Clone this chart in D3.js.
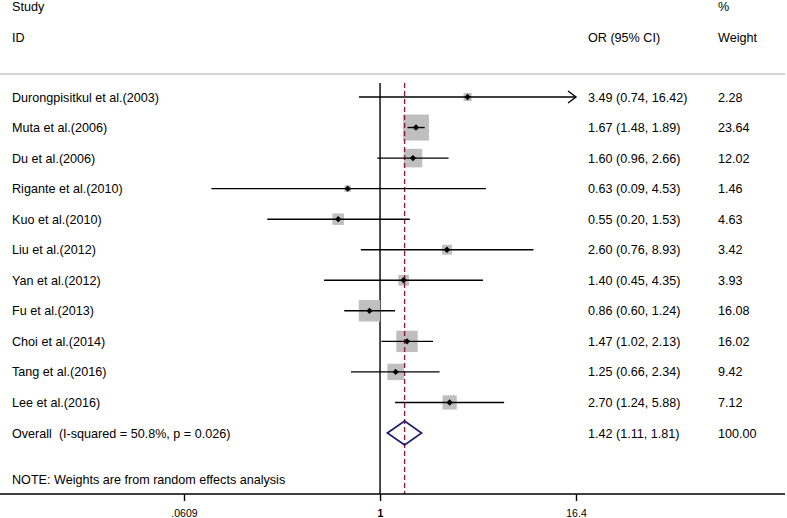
<!DOCTYPE html>
<html><head><meta charset="utf-8">
<script src="https://cdn.jsdelivr.net/npm/d3@7/dist/d3.min.js"></script>
<style>body{margin:0;background:#fff}svg{display:block}text{font-family:"Liberation Sans",Arial,sans-serif;white-space:pre}</style>
</head><body><svg id="c" width="787" height="518"></svg>
<script>
const studies = ["Durongpisitkul et al.(2003)","Muta et al.(2006)","Du et al.(2006)","Rigante et al.(2010)","Kuo et al.(2010)","Liu et al.(2012)","Yan et al.(2012)","Fu et al.(2013)","Choi et al.(2014)","Tang et al.(2016)","Lee et al.(2016)"];
const or = [3.49,1.67,1.60,0.63,0.55,2.60,1.40,0.86,1.47,1.25,2.70];
const lower = [0.74,1.48,0.96,0.09,0.20,0.76,0.45,0.60,1.02,0.66,1.24];
const upper = [16.42,1.89,2.66,4.53,1.53,8.93,4.35,1.24,2.13,2.34,5.88];
const weights = ["2.28","23.64","12.02","1.46","4.63","3.42","3.93","16.08","16.02","9.42","7.12"];
const overall = {label:"Overall  (I-squared = 50.8%, p = 0.026)", or:1.42, lower:1.11, upper:1.81, weight:"100.00"};
const tickValues = [0.0609, 1, 16.4];
const tickLabels = [".0609", "1", "16.4"];

const svg = d3.select("#c");
const x = d3.scaleLog().domain([0.0609, 16.4]).range([184, 576]);
const rowY = d3.scaleLinear().domain([0, 11]).range([97, 433]);
const fs = 12.6;
const fmt = d3.format(".2f");

// headers
const hdr = svg.append("g").attr("font-size", fs).attr("fill", "#000");
hdr.append("text").attr("x", 12).attr("y", 11).text("Study");
hdr.append("text").attr("x", 12).attr("y", 41.5).text("ID");
hdr.append("text").attr("x", 718).attr("y", 11).text("%");
hdr.append("text").attr("x", 588).attr("y", 41.5).text("OR (95% CI)");
hdr.append("text").attr("x", 718).attr("y", 41.5).text("Weight");

svg.append("line").attr("x1", 0).attr("x2", 785).attr("y1", 74).attr("y2", 74)
  .attr("stroke", "#aaa").attr("stroke-width", 1.2);

// null line
svg.append("line").attr("x1", x(1)).attr("x2", x(1)).attr("y1", 83).attr("y2", 494)
  .attr("stroke", "#000").attr("stroke-width", 1.4);

// boxes
const maxU = x.domain()[1];
studies.forEach((s, i) => {
  const y = rowY(i);
  const w = +weights[i];
  const side = 5.35 * Math.sqrt(w);
  svg.append("rect").attr("x", x(or[i]) - side/2).attr("y", y - side/2)
    .attr("width", side).attr("height", side).attr("fill", "#bfbfbf");
});

// overall dashed line
svg.append("line").attr("x1", x(overall.or)).attr("x2", x(overall.or)).attr("y1", 83).attr("y2", 494)
  .attr("stroke", "#8b1c3c").attr("stroke-width", 1.4).attr("stroke-dasharray", "5,3");

studies.forEach((s, i) => {
  const y = rowY(i);
  const hi = Math.min(upper[i], maxU);
  svg.append("line").attr("x1", x(lower[i])).attr("x2", x(hi)).attr("y1", y).attr("y2", y)
    .attr("stroke", "#000").attr("stroke-width", 1.4);
  if (upper[i] > maxU) {
    svg.append("path").attr("d", `M${x(hi)-8},${y-6}L${x(hi)},${y}L${x(hi)-8},${y+6}`)
      .attr("fill", "none").attr("stroke", "#000").attr("stroke-width", 1.4);
  }
  svg.append("path").attr("d", d3.symbol(d3.symbolDiamond2, 26)())
    .attr("transform", `translate(${x(or[i])},${y})`).attr("fill", "#000");
  svg.append("text").attr("x", 12).attr("y", y + 4.5).attr("font-size", fs).text(s);
  svg.append("text").attr("x", 588).attr("y", y + 4.5).attr("font-size", fs)
    .text(`${fmt(or[i])} (${fmt(lower[i])}, ${fmt(upper[i])})`);
  svg.append("text").attr("x", 718).attr("y", y + 4.5).attr("font-size", fs).text(weights[i]);
});

// overall
const oy = rowY(11);
svg.append("path")
  .attr("d", `M${x(overall.lower)},${oy}L${x(overall.or)},${oy-12}L${x(overall.upper)},${oy}L${x(overall.or)},${oy+12}Z`)
  .attr("fill", "none").attr("stroke", "#1a1a6b").attr("stroke-width", 1.6);
svg.append("text").attr("x", 12).attr("y", oy + 4.5).attr("font-size", fs).text(overall.label);
svg.append("text").attr("x", 588).attr("y", oy + 4.5).attr("font-size", fs)
  .text(`${fmt(overall.or)} (${fmt(overall.lower)}, ${fmt(overall.upper)})`);
svg.append("text").attr("x", 718).attr("y", oy + 4.5).attr("font-size", fs).text(overall.weight);

svg.append("text").attr("x", 12).attr("y", 483.5).attr("font-size", fs)
  .text("NOTE: Weights are from random effects analysis");

// axis
const axis = d3.axisBottom(x).tickValues(tickValues).tickFormat((d, i) => tickLabels[i]).tickSize(7).tickSizeOuter(0);
const ag = svg.append("g").attr("transform", "translate(0,494)").call(axis);
ag.select(".domain").remove();
ag.append("line").attr("x1", 0).attr("x2", 785).attr("stroke", "#000").attr("stroke-width", 1.4);
ag.selectAll(".tick line").attr("stroke", "#000").attr("stroke-width", 1.4);
ag.selectAll(".tick text").attr("font-size", 10.5).attr("fill", "#000").attr("y", 23).attr("dy", 0)
  .attr("font-family", '"Liberation Sans",Arial,sans-serif')
  .attr("font-weight", (d) => d === 1 ? "bold" : "normal");
</script></body></html>
